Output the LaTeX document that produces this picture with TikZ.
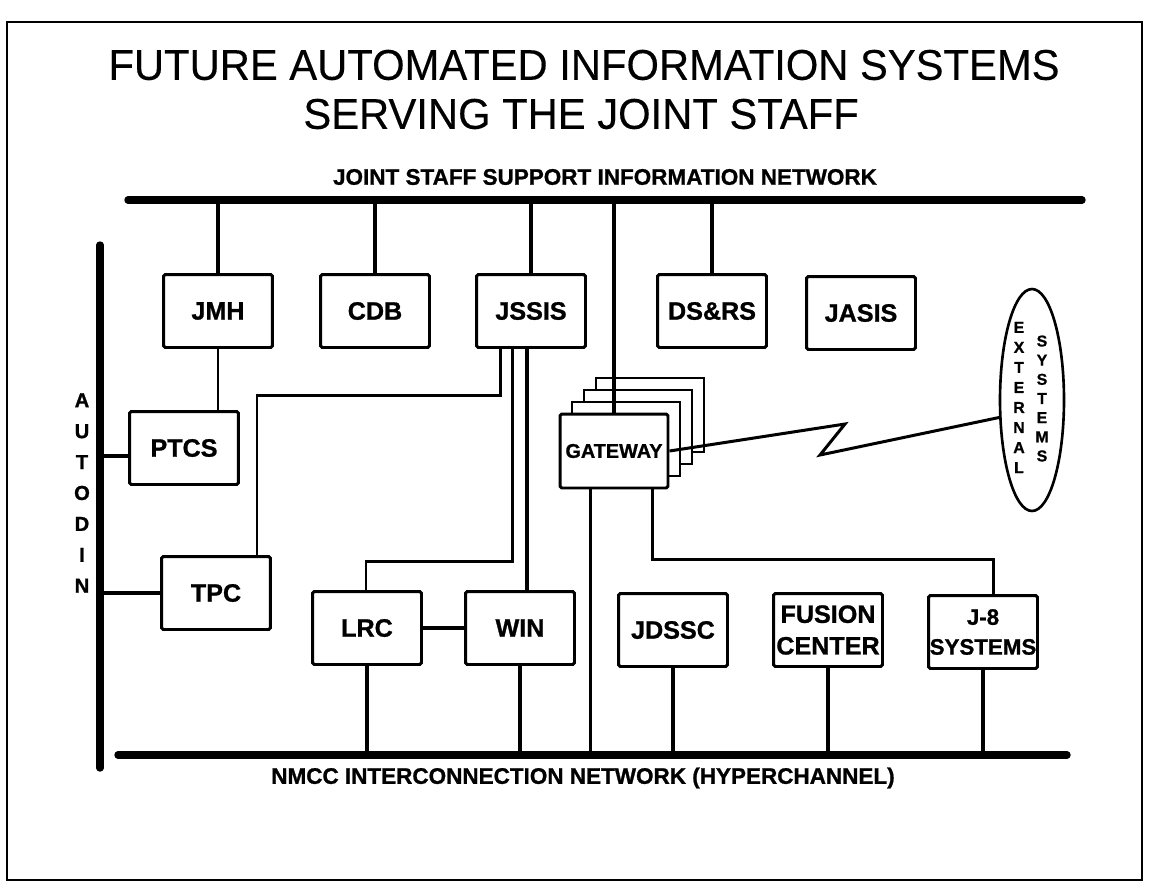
\documentclass[tikz,border=0pt]{standalone}
\usepackage{fontspec}
\setmainfont{Liberation Sans}
\newfontfamily\titlefont[FakeStretch=0.97,FakeBold=0.3]{Liberation Sans}
\newfontfamily\heavyfont[FakeBold=1.0]{Liberation Sans}
\usetikzlibrary{calc,shapes.geometric}
\begin{document}
\begin{tikzpicture}[x=0.02cm,y=-0.02cm,
  box/.style={draw,line width=1.7pt,rounded corners=1pt,minimum width=2.18cm,minimum height=1.46cm,
    inner sep=0pt,font=\heavyfont\bfseries\fontsize{14.3}{18}\selectfont,align=center,fill=white},
  backbox/.style={draw,line width=1.4pt,fill=white,minimum width=2.16cm,minimum height=1.48cm,inner sep=0pt},
  bus/.style={line width=4.2pt,line cap=round},
  drop/.style={line width=2.1pt},
  thinline/.style={line width=1.7pt},
  thickline/.style={line width=2.4pt},
  lbl/.style={font=\heavyfont\bfseries\fontsize{12.8}{15}\selectfont,inner sep=0pt},
  ttl/.style={font=\titlefont\fontsize{24.5}{28}\selectfont,inner sep=0pt},
  vlet/.style={font=\heavyfont\bfseries\fontsize{11.5}{17.6}\selectfont,align=center,inner sep=0pt}]
\useasboundingbox (0,0) rectangle (1149,893);
\draw[line width=1.1pt] (7,22) rectangle (1142,880);

% titles
\node[ttl] (t1) at (584,65) {FUTURE AUTOMATED INFORMATION SYSTEMS};
\node[ttl] (t2) at (581,114) {SERVING THE JOINT STAFF};
\node[lbl] (jssin) at (605,177) {JOINT STAFF SUPPORT INFORMATION NETWORK};
\node[lbl] (nmcc) at (583,778) {NMCC INTERCONNECTION NETWORK (HYPERCHANNEL)};

% buses
\coordinate (tbL) at (128,200); \coordinate (tbR) at (1082,200);
\coordinate (bbL) at (118,755); \coordinate (bbR) at (1067,755);
\coordinate (abT) at (100,245); \coordinate (abB) at (100,768);
\draw[bus] (tbL) -- (tbR);
\draw[bus] (bbL) -- (bbR);
\draw[bus] (abT) -- (abB);
\node[vlet] (autodin) at (82,493) {A\\U\\T\\O\\D\\I\\N};

% boxes
\node[box] (JMH) at (218,311) {JMH};
\node[box] (CDB) at (375,311) {CDB};
\node[box] (JSSIS) at (531,311) {JSSIS};
\node[box] (DSRS) at (712,311) {DS\&RS};
\node[box] (JASIS) at (861,313) {JASIS};
\node[box] (PTCS) at (184,448) {PTCS};
\node[box] (TPC) at (216,593) {TPC};
\node[box] (LRC) at (367,628) {LRC};
\node[box] (WIN) at (520,628) {WIN};
\node[box] (JDSSC) at (673,630) {JDSSC};
\node[box] (FUS) at (828,630) {FUSION\\CENTER};
\node[box,font=\heavyfont\bfseries\fontsize{12.7}{17}\selectfont] (J8) at (983,632) {J-8\\SYSTEMS};

% gateway stack
\foreach \i in {3,2,1}
  \node[backbox] (gw\i) at ($(614,451)+(12*\i,-12*\i)$) {};
\node[box,minimum width=2.16cm,minimum height=1.48cm,font=\heavyfont\bfseries\fontsize{11.3}{14}\selectfont] (GW) at (614,451) {GATEWAY};

% external systems
\node[ellipse,draw,line width=1.5pt,minimum width=1.28cm,minimum height=4.44cm,inner sep=0pt] (EXT) at (1032,400) {};
\node[font=\heavyfont\bfseries\fontsize{9}{11.4}\selectfont,align=center,inner sep=0pt] (ext1) at (1019,397.5) {E\\X\\T\\E\\R\\N\\A\\L};
\node[font=\heavyfont\bfseries\fontsize{9}{10.9}\selectfont,align=center,inner sep=0pt] (ext2) at (1042,398.5) {S\\Y\\S\\T\\E\\M\\S};

% drops from top bus
\foreach \n in {JMH,CDB,JSSIS,GW,DSRS}
  \draw[drop] (\n.north) -- (\n.north |- tbL);
% drops to bottom bus
\foreach \n in {LRC,WIN,JDSSC,FUS,J8}
  \draw[drop] (\n.south) -- (\n.south |- bbL);

% JMH - PTCS
\draw[thinline] (JMH.south) -- (JMH.south |- PTCS.north);
% AUTODIN stubs
\coordinate (p1) at ($(PTCS.west)+(0,8)$);
\draw[drop] (p1) -- (p1 -| abT);
\draw[drop] (TPC.west) -- (TPC.west -| abT);

% JSSIS lines
\coordinate (c1) at (257,395);
\draw[thinline] ($(JSSIS.south)+(-31,0)$) |- (c1) -- (c1 |- TPC.north);
\coordinate (c2) at (366,561);
\draw[thinline] ($(JSSIS.south)+(-19,0)$) |- (c2) -- (c2 |- LRC.north);
\coordinate (s3) at ($(JSSIS.south)+(-4,0)$);
\draw[thickline] (s3) -- (s3 |- WIN.north);
\draw[thickline] (LRC.east) -- (WIN.west);

% gateway lines
\coordinate (g1) at ($(GW.south)+(-24,0)$);
\draw[thinline] (g1) -- (g1 |- bbL);
\coordinate (c3) at (993,559);
\draw[thinline] ($(GW.south)+(38,0)$) |- (c3) -- (c3 |- J8.north);

% zigzag link
\coordinate (z1) at (845,424);
\coordinate (z2) at (820,455);
\draw[thinline,line join=miter] (GW.east) -- (z1) -- (z2) -- (EXT.208);
\end{tikzpicture}
\end{document}
